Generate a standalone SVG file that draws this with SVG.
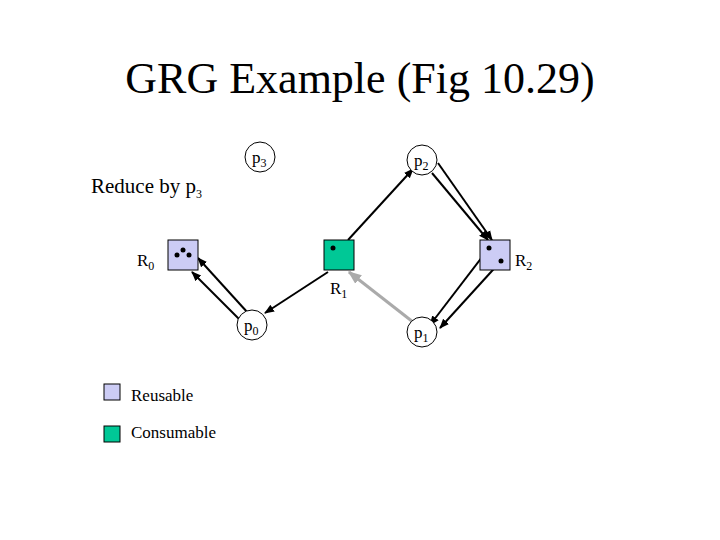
<svg xmlns="http://www.w3.org/2000/svg" width="720" height="540" viewBox="0 0 720 540">
<defs><marker id="a" viewBox="0 0 10 10" refX="9" refY="5" markerWidth="5" markerHeight="5" orient="auto"><path d="M0,1 L10,5 L0,9 z" fill="#000"/></marker>
<marker id="g" viewBox="0 0 10 10" refX="9" refY="5" markerWidth="4.5" markerHeight="4.5" orient="auto"><path d="M0,1 L10,5 L0,9 z" fill="#aaa"/></marker></defs>
<style>text{font-family:"Liberation Serif",serif;fill:#000}.c{fill:#fff;stroke:#000;stroke-width:1}.r{fill:#ccccf5;stroke:#000}.k{fill:#00c896;stroke:#000}.e{stroke:#000;stroke-width:2;marker-end:url(#a)}.s{font-size:12px}</style>
<rect width="720" height="540" fill="#fff"/>
<text x="360" y="93" font-size="44" text-anchor="middle">GRG Example (Fig 10.29)</text>
<text x="91" y="193" font-size="21">Reduce by p<tspan class="s" dy="5">3</tspan></text>
<g id="connectors" fill="none">
<line class="e" x1="348" y1="240" x2="413" y2="169"/>
<line class="e" x1="432" y1="173" x2="488" y2="240"/>
<line class="e" x1="438" y1="163" x2="492" y2="240"/>
<line class="e" x1="489" y1="248" x2="430" y2="325"/>
<line class="e" x1="501" y1="261" x2="440" y2="328"/>
<line stroke="#aaa" stroke-width="3" marker-end="url(#g)" x1="413" y1="322" x2="349" y2="272"/>
<line class="e" x1="328" y1="272" x2="265" y2="313"/>
<line class="e" x1="242" y1="322" x2="192" y2="272"/>
<line class="e" x1="248" y1="313" x2="198" y2="258"/>
</g>
<g id="p3"><circle class="c" cx="260" cy="157" r="15"/><text x="252" y="163" font-size="17">p<tspan class="s" dy="4">3</tspan></text></g>
<g id="p2"><circle class="c" cx="422" cy="160" r="15"/><text x="414" y="166" font-size="17">p<tspan class="s" dy="4">2</tspan></text></g>
<g id="p0"><circle class="c" cx="252" cy="325" r="15"/><text x="244" y="331" font-size="17">p<tspan class="s" dy="4">0</tspan></text></g>
<g id="p1"><circle class="c" cx="422" cy="332" r="15"/><text x="414" y="338" font-size="17">p<tspan class="s" dy="4">1</tspan></text></g>
<g id="R0"><rect class="r" x="168" y="240" width="30" height="30"/><circle cx="177" cy="255" r="2.5"/><circle cx="183" cy="250" r="2.5"/><circle cx="189" cy="255" r="2.5"/><text x="137" y="266" font-size="17">R<tspan class="s" dy="4">0</tspan></text></g>
<g id="R1"><rect class="k" x="324" y="240" width="30" height="30"/><circle cx="333" cy="248" r="2.5"/><text x="330" y="294" font-size="17">R<tspan class="s" dy="4">1</tspan></text></g>
<g id="R2"><rect class="r" x="480" y="240" width="30" height="30"/><circle cx="489" cy="248" r="2.5"/><circle cx="501" cy="261" r="2.5"/><text x="515" y="266" font-size="17">R<tspan class="s" dy="4">2</tspan></text></g>
<g id="legend"><rect class="r" x="104" y="384" width="16" height="16"/><text x="131" y="401" font-size="17">Reusable</text>
<rect class="k" x="104" y="426" width="16" height="16"/><text x="131" y="438" font-size="17">Consumable</text></g>
</svg>
